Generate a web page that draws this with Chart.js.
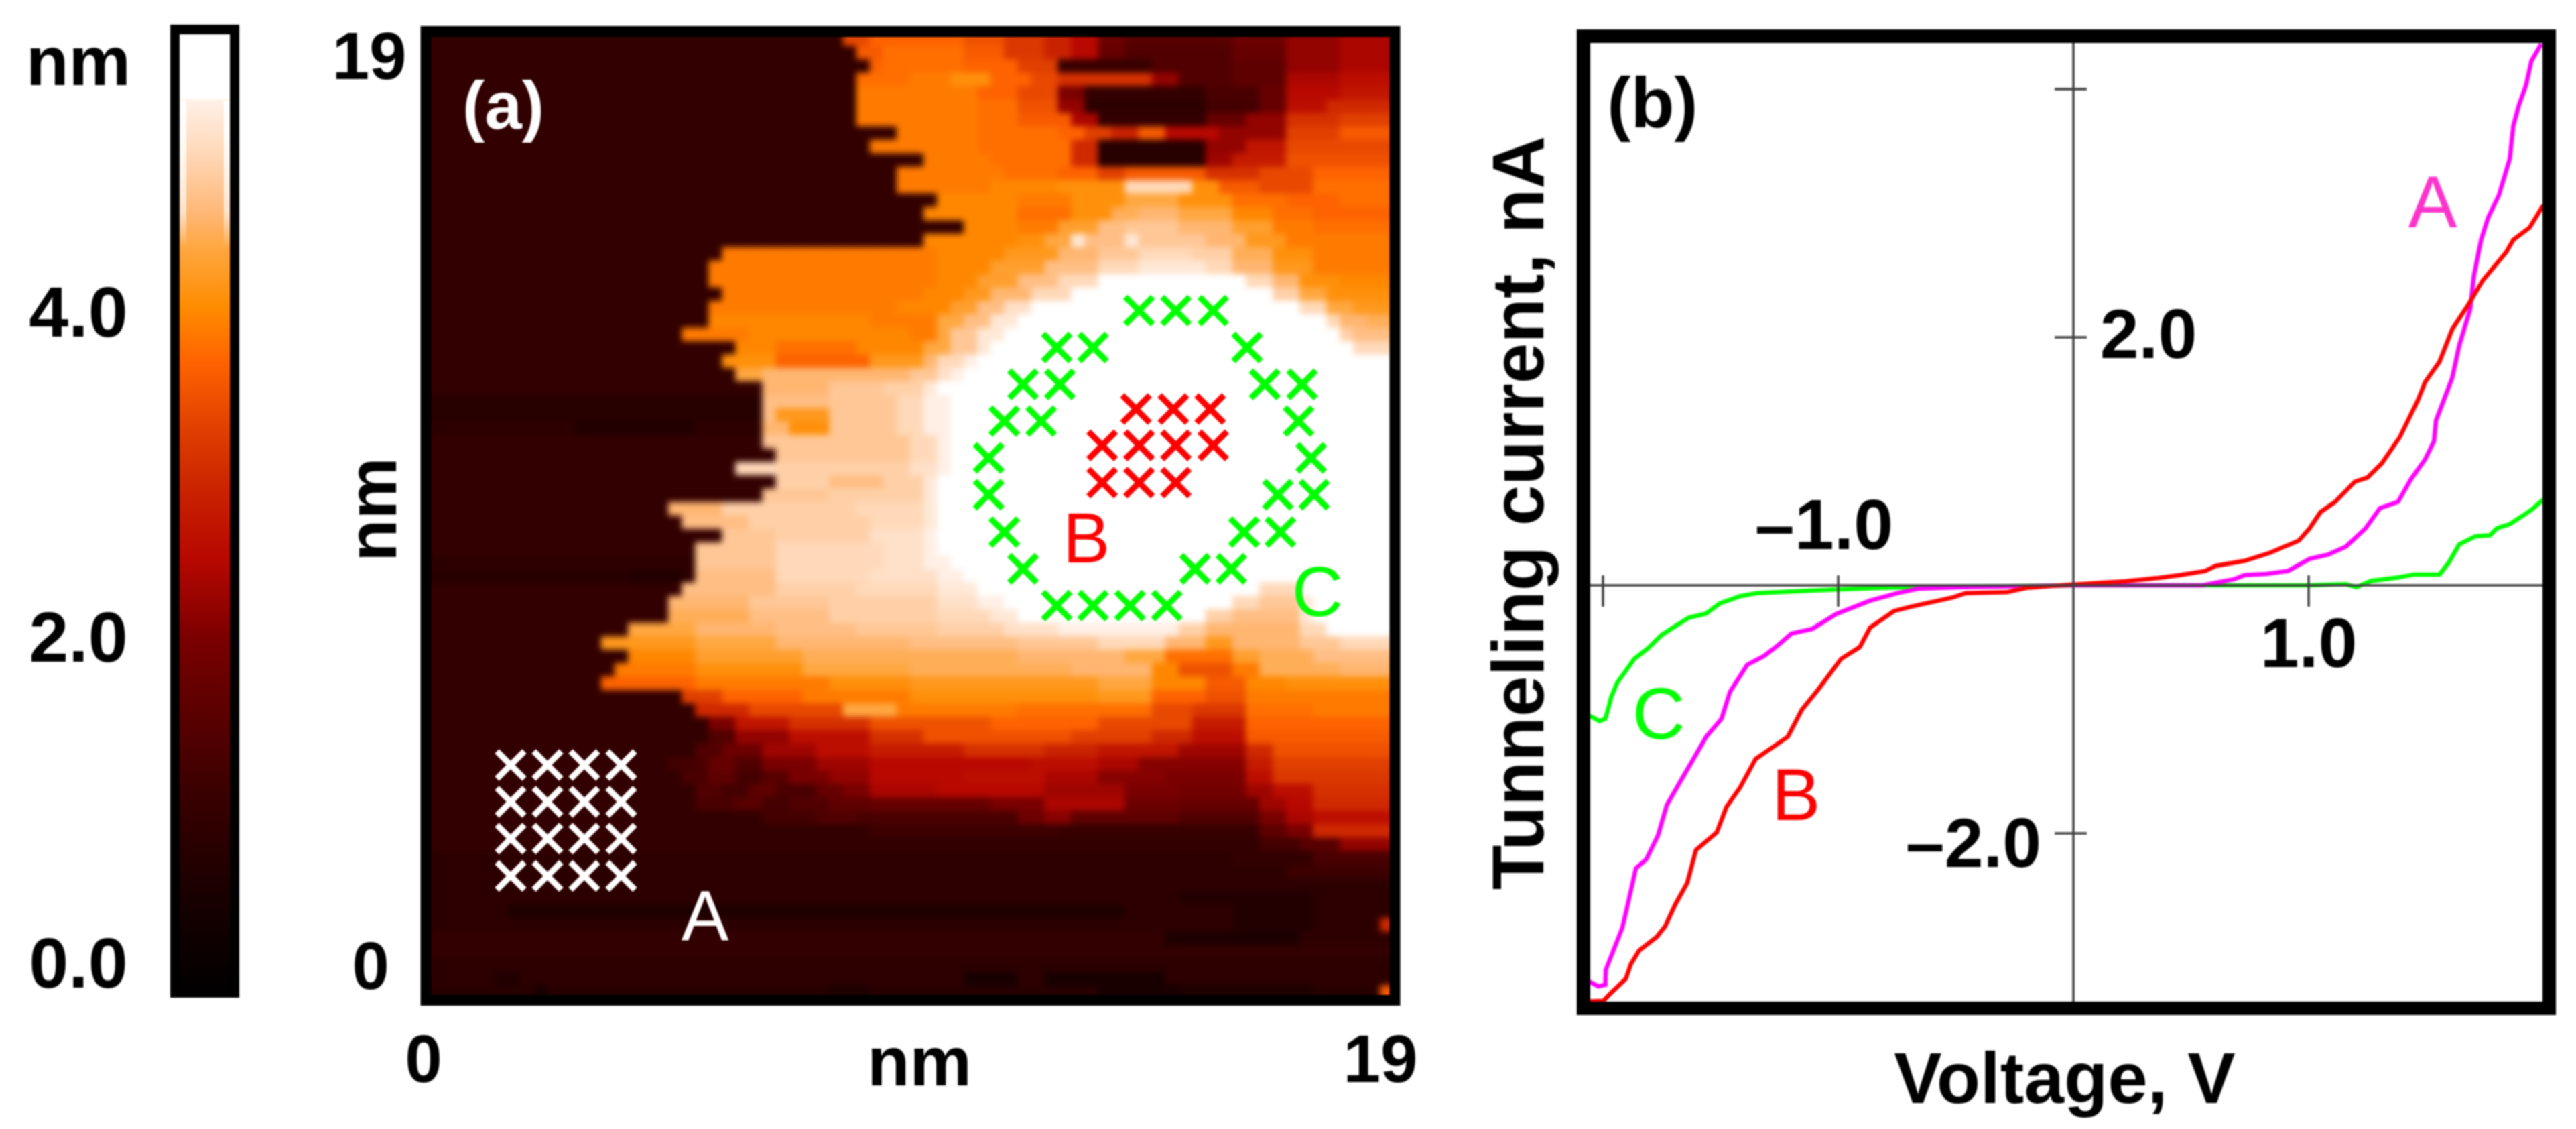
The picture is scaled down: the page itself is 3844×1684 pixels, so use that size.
<!DOCTYPE html>
<html>
<head>
    <title>STM topography and tunneling spectra</title>
    <script src="https://cdn.jsdelivr.net/npm/chart.js"></script>
    <style>
        html, body { margin: 0; padding: 0; background: #ffffff; overflow: hidden; }
        #page { position: relative; width: 3844px; height: 1684px; }
        canvas { position: absolute; left: 0; top: 0; filter: blur(1px); }
        #heatBack { position: absolute; left: 635px; top: 47px; width: 1446px; height: 1445px; background: #300000; }
        #heat { filter: blur(5px); }
    </style>
</head>
<body>
<div id="page">
    <canvas id="colorbar" width="3844" height="1684"></canvas>
    <div id="heatBack"></div>
    <canvas id="heat" width="3844" height="1684"></canvas>
    <canvas id="topo" width="3844" height="1684"></canvas>
    <canvas id="iv" width="3844" height="1684"></canvas>
</div>
<script>
    // colour bar, nm against colour
    const colorbarNm = [-0.2, 0.4, 1.06, 2.0, 2.5, 2.88, 3.3, 3.73, 4.04, 4.42, 4.63, 4.99, 5.31, 5.33, 5.72];
    const colorbarColors = ['#000000', '#180000', '#3a0000', '#7a0000', '#b80800', '#c82000', '#e04000', '#ff6600',
        '#ff8c00', '#ffa844', '#ffb878', '#ffd8b8', '#fff0e6', '#ffffff', '#ffffff'];
    const colorbarTicks = ['0.0', '2.0', '4.0'];

    // topography: 72 rows from the top, each "height in 0.1 nm : end column"
    const heatRows = [
        '9:31 34:33 37:40 35:43 32:46 29:48 25:50 18:52 15:60 18:64 22:68 24:72',
        '9:32 36:34 38:40 36:43 32:46 29:48 25:50 17:52 14:60 17:64 22:68 24:72',
        '9:33 37:34 38:40 37:44 33:47 10:54 14:60 16:64 22:68 24:72',
        '9:32 38:36 39:39 41:42 37:45 34:47 31:54 22:56 14:60 16:64 24:68 26:72',
        '9:32 39:41 37:44 34:47 20:49 9:58 13:62 17:64 25:68 27:72',
        '9:32 39:41 38:44 35:47 22:49 8:58 12:62 17:64 26:67 30:72',
        '9:32 39:41 38:44 36:48 24:50 9:58 17:61 22:64 31:68 33:72',
        '9:35 39:41 38:47 37:49 33:51 29:53 36:55 25:59 22:64 33:68 36:72',
        '9:33 39:41 38:48 30:50 7:58 22:61 27:64 34:72',
        '9:37 39:42 38:48 30:50 7:58 23:60 28:64 35:72',
        '9:35 39:43 38:47 37:50 33:52 36:58 31:62 34:66 37:72',
        '9:35 39:42 40:47 41:52 50:57 41:59 36:62 34:66 38:72',
        '9:38 40:44 39:48 41:52 44:56 41:60 38:64 37:68 38:72',
        '9:37 40:44 38:48 41:51 45:53 46:56 44:60 40:63 38:66 37:72',
        '9:40 40:44 39:47 43:50 47:52 48:56 46:60 43:63 39:66 38:72',
        '9:37 40:44 41:46 44:48 52:49 47:52 52:53 48:58 46:61 42:64 39:72',
        '9:22 39:38 40:43 42:47 46:50 48:53 50:57 49:60 45:63 41:66 39:72',
        '9:21 39:38 40:42 43:46 47:50 50:53 52:58 50:60 46:63 42:66 39:72',
        '9:21 39:38 40:41 43:44 47:47 50:50 54:61 50:63 46:65 41:68 40:72',
        '9:22 39:37 40:40 42:42 46:45 50:48 54:63 49:65 44:67 41:72',
        '9:21 39:35 40:39 43:41 47:43 51:45 54:65 50:67 44:69 42:72',
        '9:21 40:33 39:38 44:40 47:42 52:44 54:67 50:68 46:70 45:72',
        '9:19 39:24 40:36 39:38 44:39 48:41 52:43 54:68 49:69 47:72',
        '9:23 40:26 38:32 40:37 44:39 48:41 52:42 54:69 50:72',
        '9:22 41:26 37:33 42:37 46:38 50:40 53:41 54:72',
        '9:23 44:25 46:36 48:38 51:39 53:40 54:72',
        '9:25 46:30 48:34 49:37 52:38 54:72',
        '7:25 47:30 48:35 50:37 53:39 54:72',
        '7:25 47:26 42:30 48:35 50:37 53:39 54:72',
        '8:11 6:20 8:25 46:27 41:30 48:35 50:37 53:39 54:72',
        '9:25 48:36 50:38 53:39 54:72',
        '9:26 48:36 50:38 53:39 54:72',
        '9:23 50:26 49:36 51:38 53:39 54:72',
        '9:26 49:30 47:34 49:37 52:38 54:72',
        '9:25 48:30 49:37 52:38 54:72',
        '9:18 46:22 49:32 50:37 52:38 54:72',
        '9:19 47:24 49:33 50:37 52:38 54:72',
        '9:22 48:26 49:33 51:37 53:38 54:72',
        '9:20 48:26 50:34 51:37 53:38 54:72',
        '8:20 48:26 50:34 51:37 53:39 54:72',
        '7:15 6:19 8:20 47:26 50:33 51:38 53:40 54:72',
        '9:19 47:26 49:32 50:38 52:41 54:62 50:65 54:72',
        '9:18 46:24 48:30 49:38 51:41 53:43 54:60 50:62 48:65 52:66 54:72',
        '9:18 45:24 47:30 49:38 50:42 52:44 54:58 49:60 47:65 52:66 54:72',
        '9:15 44:20 46:26 47:32 48:38 49:43 51:47 53:56 49:58 46:65 50:67 54:72',
        '9:13 42:20 44:26 46:36 47:44 48:50 50:55 46:58 42:60 46:65 48:68 50:72',
        '9:15 40:20 43:28 45:44 46:52 44:55 38:60 43:62 45:66 47:72',
        '9:14 39:20 41:28 44:36 45:48 46:54 40:56 35:60 39:62 45:68 46:72',
        '9:13 37:20 39:30 41:36 42:50 44:54 40:58 36:61 40:64 41:72',
        '9:19 33:22 37:28 39:36 41:50 42:54 37:58 35:61 39:72',
        '9:20 30:24 34:31 44:35 39:44 38:54 34:57 32:61 38:66 39:72',
        '9:21 20:23 27:27 31:33 35:42 37:50 34:57 28:61 37:72',
        '9:21 14:23 22:27 26:33 31:37 35:48 33:54 30:57 26:61 36:72',
        '9:20 14:22 18:25 23:29 26:33 28:40 31:46 29:50 27:56 23:61 30:63 35:72',
        '9:18 12:20 13:21 17:23 14:25 20:29 23:33 25:45 26:50 24:53 21:61 28:63 33:72',
        '9:19 13:21 16:23 12:25 15:27 20:30 22:33 25:40 26:46 24:50 21:55 20:61 26:63 32:72',
        '9:20 14:22 12:24 16:26 13:29 17:31 20:33 24:38 25:46 23:52 20:56 19:61 23:63 26:66 31:72',
        '9:20 13:23 15:25 12:27 14:30 16:33 17:42 20:46 24:52 18:56 17:62 23:64 25:66 30:72',
        '9:25 12:29 14:32 13:44 18:46 21:48 16:56 14:62 20:64 24:66 26:72',
        '9:33 11:47 10:62 16:64 20:66 30:72',
        '9:62 12:65 15:68 22:72',
        '8:60 9:66 13:72',
        '8:64 11:72',
        '8:72',
        '8:56 6:66 8:72',
        '8:6 5:52 8:60 6:66 8:72',
        '8:60 6:66 8:71 30:72',
        '9:55 5:65 8:72',
        '9:72',
        '8:72',
        '8:5 6:7 8:40 4:44 8:46 4:55 8:72',
        '7:8 4:9 7:30 5:33 7:50 4:56 5:66 7:71 36:72'
    ];

    // measurement sites in panel (a), nm
    const siteAx = [1.58, 2.31, 3.04, 3.77, 1.58, 2.31, 3.04, 3.77, 1.58, 2.31, 3.04, 3.77, 1.58, 2.31, 3.04, 3.77];
    const siteAy = [4.56, 4.56, 4.56, 4.56, 3.83, 3.83, 3.83, 3.83, 3.10, 3.10, 3.10, 3.10, 2.36, 2.36, 2.36, 2.36];
    const siteBx = [13.97, 14.71, 15.44, 13.30, 14.03, 14.76, 15.50, 13.30, 14.03, 14.76];
    const siteBy = [11.62, 11.62, 11.62, 10.90, 10.90, 10.90, 10.90, 10.16, 10.16, 10.16];
    const siteCx = [14.03, 14.76, 15.50, 12.40, 13.12, 16.17, 11.73, 12.46, 16.52, 17.26, 11.36, 12.09, 17.19, 11.05, 17.44,
        11.05, 16.78, 17.50, 11.36, 16.11, 16.83, 11.73, 15.14, 15.86, 12.40, 13.12, 13.85, 14.58];
    const siteCy = [13.57, 13.57, 13.57, 12.84, 12.84, 12.84, 12.11, 12.11, 12.11, 12.11, 11.38, 11.38, 11.38, 10.65, 10.65,
        9.92, 9.92, 9.92, 9.18, 9.18, 9.18, 8.45, 8.45, 8.45, 7.72, 7.72, 7.72, 7.72];

    // I-V curves of panel (b)
    const voltageA = [-2.056, -2.020, -1.990, -1.988, -1.918, -1.903, -1.860, -1.816, -1.766, -1.729, -1.664, -1.620, -1.561,
        -1.496, -1.460, -1.387, -1.315, -1.257, -1.199, -1.111, -1.009, -0.864, -0.747, -0.661, -0.472, 0, 0.55, 0.683, 0.728,
        0.820, 0.912, 1.004, 1.081, 1.158, 1.242, 1.303, 1.380, 1.434, 1.495, 1.533, 1.541, 1.610, 1.640, 1.687, 1.702, 1.733,
        1.763, 1.809, 1.855, 1.870, 1.893, 1.924, 1.947, 1.989];
    const currentA = [-3.197, -3.233, -3.221, -3.101, -2.763, -2.643, -2.282, -2.209, -2.016, -1.773, -1.558, -1.414, -1.221,
        -1.076, -0.859, -0.642, -0.570, -0.485, -0.389, -0.352, -0.232, -0.124, -0.063, -0.027, -0.015, 0, 0, 0.049, 0.082,
        0.092, 0.115, 0.213, 0.246, 0.311, 0.459, 0.622, 0.672, 0.852, 1.015, 1.163, 1.327, 1.671, 1.933, 2.228, 2.490, 2.785,
        2.965, 3.145, 3.440, 3.702, 3.866, 4.030, 4.227, 4.365];
    const voltageB = [-2.057, -1.998, -1.969, -1.903, -1.881, -1.846, -1.772, -1.736, -1.692, -1.642, -1.605, -1.516, -1.475,
        -1.417, -1.351, -1.214, -1.155, -1.083, -0.988, -0.908, -0.864, -0.763, -0.690, -0.516, -0.458, -0.283, -0.196, -0.053,
        0.222, 0.361, 0.453, 0.560, 0.606, 0.728, 0.836, 0.958, 1.004, 1.050, 1.112, 1.196, 1.250, 1.311, 1.388, 1.464, 1.495,
        1.556, 1.610, 1.678, 1.740, 1.840, 1.870, 1.939, 1.997];
    const currentB = [-3.354, -3.350, -3.293, -3.173, -3.053, -2.945, -2.836, -2.751, -2.571, -2.400, -2.136, -1.992, -1.787,
        -1.630, -1.400, -1.221, -1.004, -0.835, -0.594, -0.498, -0.341, -0.208, -0.172, -0.100, -0.063, -0.056, -0.020, 0,
        0.033, 0.059, 0.082, 0.115, 0.157, 0.197, 0.262, 0.360, 0.459, 0.590, 0.672, 0.835, 0.868, 0.983, 1.196, 1.491, 1.638,
        1.802, 2.064, 2.260, 2.457, 2.686, 2.785, 2.883, 3.063];
    const voltageC = [-2.056, -2.015, -1.990, -1.972, -1.966, -1.940, -1.903, -1.867, -1.809, -1.751, -1.692, -1.635, -1.561,
        -1.504, -1.416, -1.345, -1.214, -1.009, -0.806, -0.661, 0, 1.0, 1.157, 1.204, 1.265, 1.372, 1.449, 1.556, 1.595, 1.640,
        1.709, 1.771, 1.801, 1.855, 1.909, 1.947, 1.997];
    const currentC = [-1.052, -1.095, -1.076, -0.956, -0.907, -0.787, -0.690, -0.594, -0.509, -0.401, -0.329, -0.261, -0.228,
        -0.147, -0.088, -0.063, -0.051, -0.034, -0.020, -0.015, 0, 0, 0.009, -0.015, 0.035, 0.061, 0.087, 0.087, 0.182, 0.330,
        0.395, 0.402, 0.460, 0.493, 0.559, 0.608, 0.690];
    const ivTicksX = [-2, -1, 1];
    const ivTicksY = [-2, 2, 4];

    const FONT = '"Liberation Sans", Arial, sans-serif';

    function hexToRgb(hex) {
        return [1, 3, 5].map(i => parseInt(hex.substr(i, 2), 16));
    }

    function heatColor(nm) {
        let i = 0;
        while (i < colorbarNm.length - 2 && nm > colorbarNm[i + 1]) i++;
        const t = Math.min(1, Math.max(0, (nm - colorbarNm[i]) / (colorbarNm[i + 1] - colorbarNm[i])));
        const a = hexToRgb(colorbarColors[i]), b = hexToRgb(colorbarColors[i + 1]);
        return `rgb(${a.map((v, k) => Math.round(v + (b[k] - v) * t)).join(',')})`;
    }

    function zip(xs, ys) {
        return xs.map((x, i) => ({ x: x, y: ys[i] }));
    }

    const heatCells = [];
    heatRows.forEach((row, r) => {
        let col = 0;
        row.split(' ').forEach(run => {
            const [level, end] = run.split(':').map(Number);
            for (; col < end; col++) {
                heatCells.push({ x: (col + 0.5) * 19 / 72, y: 19 - (r + 0.5) * 19 / 72, v: level / 10 });
            }
        });
    });

    function putText(ctx, item) {
        ctx.save();
        ctx.translate(item.x, item.y);
        if (item.rotate) ctx.rotate(item.rotate);
        ctx.font = `${item.weight || 'bold'} ${item.size}px ${FONT}`;
        ctx.fillStyle = item.color || '#000000';
        ctx.textAlign = 'center';
        ctx.textBaseline = 'middle';
        ctx.fillText(item.text, 0, 0);
        ctx.restore();
    }

    // frame, axes and text for each panel; text sits where the reference puts it
    const panelPlugin = {
        id: 'panelPlugin',
        afterDatasetsDraw(chart, args, opts) {
            const ctx = chart.ctx;
            if (opts.draw) opts.draw(ctx, chart);
            (opts.texts || []).forEach(t => putText(ctx, t));
        }
    };

    const hiddenScale = (min, max) => ({ type: 'linear', display: false, min: min, max: max });
    const baseOptions = {
        responsive: false,
        animation: false,
        events: []
    };

    // colour bar
    new Chart(document.getElementById('colorbar'), {
        type: 'bar',
        data: {
            labels: ['nm'],
            datasets: [{
                data: [[colorbarNm[0], colorbarNm[colorbarNm.length - 1]]],
                barPercentage: 1,
                categoryPercentage: 1,
                backgroundColor: c => {
                    const y = c.chart.scales.y;
                    const from = y ? y.getPixelForValue(colorbarNm[0]) : NaN;
                    const to = y ? y.getPixelForValue(colorbarNm[colorbarNm.length - 1]) : NaN;
                    if (!isFinite(from) || !isFinite(to)) return '#000000';
                    const g = c.chart.ctx.createLinearGradient(0, from, 0, to);
                    colorbarNm.forEach((v, i) => g.addColorStop((v - colorbarNm[0]) / (colorbarNm[colorbarNm.length - 1] - colorbarNm[0]), colorbarColors[i]));
                    return g;
                }
            }]
        },
        options: {
            ...baseOptions,
            layout: { padding: { left: 268, right: 3844 - 343, top: 51, bottom: 1684 - 1488 } },
            scales: {
                x: { display: false },
                y: { type: 'linear', display: false, min: colorbarNm[0], max: colorbarNm[colorbarNm.length - 1] }
            },
            plugins: {
                legend: { display: false },
                tooltip: { enabled: false },
                panelPlugin: {
                    draw(ctx, chart) {
                        const y = chart.scales.y;
                        // the pale top of the bar is narrower than the frame opening
                        const fringe = ctx.createLinearGradient(0, 150, 0, 370);
                        fringe.addColorStop(0, 'rgba(255,255,255,1)');
                        fringe.addColorStop(0.75, 'rgba(255,255,255,0.6)');
                        fringe.addColorStop(1, 'rgba(255,255,255,0)');
                        ctx.fillStyle = fringe;
                        ctx.fillRect(268, 150, 10, 220);
                        ctx.fillRect(334, 150, 9, 220);
                        ctx.strokeStyle = '#000000';
                        ctx.lineWidth = 14;
                        ctx.beginPath();
                        ctx.moveTo(261, 1488);
                        ctx.lineTo(261, 44);
                        ctx.lineTo(350, 44);
                        ctx.lineTo(350, 1488);
                        ctx.stroke();
                        colorbarTicks.forEach(t => putText(ctx, { text: t, x: 117, y: y.getPixelForValue(Number(t)) + 4, size: 106 }));
                    },
                    texts: [{ text: 'nm', x: 117, y: 98, size: 104 }]
                }
            }
        },
        plugins: [panelPlugin]
    });

    // panel (a) surface: slightly larger than the frame opening so the blur fades under the frame
    new Chart(document.getElementById('heat'), {
        type: 'scatter',
        data: {
            datasets: [{
                data: heatCells,
                pointStyle: 'rect',
                pointRadius: 15,
                pointBorderWidth: 0,
                pointBackgroundColor: heatCells.map(c => heatColor(c.v))
            }]
        },
        options: {
            ...baseOptions,
            layout: { padding: { left: 637, right: 3844 - 2080, top: 49, bottom: 1684 - 1490 } },
            scales: { x: hiddenScale(0, 19), y: hiddenScale(0, 19) },
            plugins: { legend: { display: false }, tooltip: { enabled: false } }
        }
    });

    // panel (a) sites, frame and labels
    const siteSet = (xs, ys, color) => ({
        data: zip(xs, ys),
        pointStyle: 'crossRot',
        pointRadius: 29,
        pointBorderWidth: 9,
        pointBorderColor: color,
        pointBackgroundColor: color
    });
    new Chart(document.getElementById('topo'), {
        type: 'scatter',
        data: {
            datasets: [
                siteSet(siteAx, siteAy, '#ffffff'),
                siteSet(siteBx, siteBy, '#ff0000'),
                siteSet(siteCx, siteCy, '#00ff00')
            ]
        },
        options: {
            ...baseOptions,
            layout: { padding: { left: 643, right: 3844 - 2074, top: 55, bottom: 1684 - 1484 } },
            scales: { x: hiddenScale(0, 19), y: hiddenScale(0, 19) },
            plugins: {
                legend: { display: false },
                tooltip: { enabled: false },
                panelPlugin: {
                    draw(ctx) {
                        ctx.strokeStyle = '#000000';
                        ctx.lineWidth = 16;
                        ctx.strokeRect(635.5, 47, 1446, 1445);
                    },
                    texts: [
                        { text: '(a)', x: 751, y: 164, size: 100, color: '#ffffff' },
                        { text: '19', x: 551, y: 90, size: 100 },
                        { text: '0', x: 553, y: 1447, size: 100 },
                        { text: 'nm', x: 562, y: 760, size: 104, rotate: -Math.PI / 2 },
                        { text: '0', x: 632, y: 1586, size: 100 },
                        { text: 'nm', x: 1372, y: 1590, size: 104 },
                        { text: '19', x: 2060, y: 1586, size: 100 },
                        { text: 'A', x: 1052, y: 1373, size: 106, weight: 'normal', color: '#ffffff' },
                        { text: 'B', x: 1621, y: 810, size: 106, weight: 'normal', color: '#ff0000' },
                        { text: 'C', x: 1966, y: 890, size: 106, weight: 'normal', color: '#00ff00' }
                    ]
                }
            }
        },
        plugins: [panelPlugin]
    });

    // panel (b)
    const curveSet = (label, xs, ys, color) => ({
        label: label,
        data: zip(xs, ys),
        borderColor: color,
        backgroundColor: color,
        borderWidth: 6.5,
        pointRadius: 0,
        tension: 0
    });
    new Chart(document.getElementById('iv'), {
        type: 'line',
        data: {
            datasets: [
                curveSet('B', voltageB, currentB, '#ff0000'),
                curveSet('A', voltageA, currentA, '#ff00ff'),
                curveSet('C', voltageC, currentC, '#00ff00')
            ]
        },
        options: {
            ...baseOptions,
            layout: { padding: { left: 2372, right: 3844 - 3795, top: 64, bottom: 1684 - 1494 } },
            scales: { x: hiddenScale(-2.057, 1.997), y: hiddenScale(-3.357, 4.373) },
            plugins: {
                legend: { display: false },
                tooltip: { enabled: false },
                panelPlugin: {
                    draw(ctx, chart) {
                        const x = chart.scales.x, y = chart.scales.y, area = chart.chartArea;
                        const x0 = x.getPixelForValue(0), y0 = y.getPixelForValue(0);
                        ctx.strokeStyle = '#404040';
                        ctx.lineWidth = 3.5;
                        ctx.beginPath();
                        ctx.moveTo(area.left, y0);
                        ctx.lineTo(area.right, y0);
                        ctx.moveTo(x0, area.top);
                        ctx.lineTo(x0, area.bottom);
                        ivTicksX.forEach(v => {
                            const px = x.getPixelForValue(v);
                            ctx.moveTo(px, y0 - 15);
                            ctx.lineTo(px, y0 + 32);
                        });
                        ivTicksY.forEach(v => {
                            const py = y.getPixelForValue(v);
                            ctx.moveTo(x0 - 28, py);
                            ctx.lineTo(x0 + 20, py);
                        });
                        ctx.stroke();
                        ctx.strokeStyle = '#000000';
                        ctx.lineWidth = 20;
                        ctx.strokeRect(2363, 54, 1441, 1450);
                    },
                    texts: [
                        { text: '(b)', x: 2466, y: 161, size: 106 },
                        { text: '2.0', x: 3206, y: 505, size: 104 },
                        { text: '–2.0', x: 2945, y: 1264, size: 104 },
                        { text: '–1.0', x: 2722, y: 790, size: 106 },
                        { text: '1.0', x: 3445, y: 966, size: 104 },
                        { text: 'Tunneling current, nA', x: 2273, y: 765, size: 109, rotate: -Math.PI / 2 },
                        { text: 'Voltage, V', x: 3081, y: 1615, size: 107 },
                        { text: 'A', x: 3630, y: 309, size: 109, weight: 'normal', color: '#ff33cc' },
                        { text: 'B', x: 2680, y: 1193, size: 109, weight: 'normal', color: '#ff0000' },
                        { text: 'C', x: 2475, y: 1072, size: 109, weight: 'normal', color: '#00ff00' }
                    ]
                }
            }
        },
        plugins: [panelPlugin]
    });
</script>
</body>
</html>
